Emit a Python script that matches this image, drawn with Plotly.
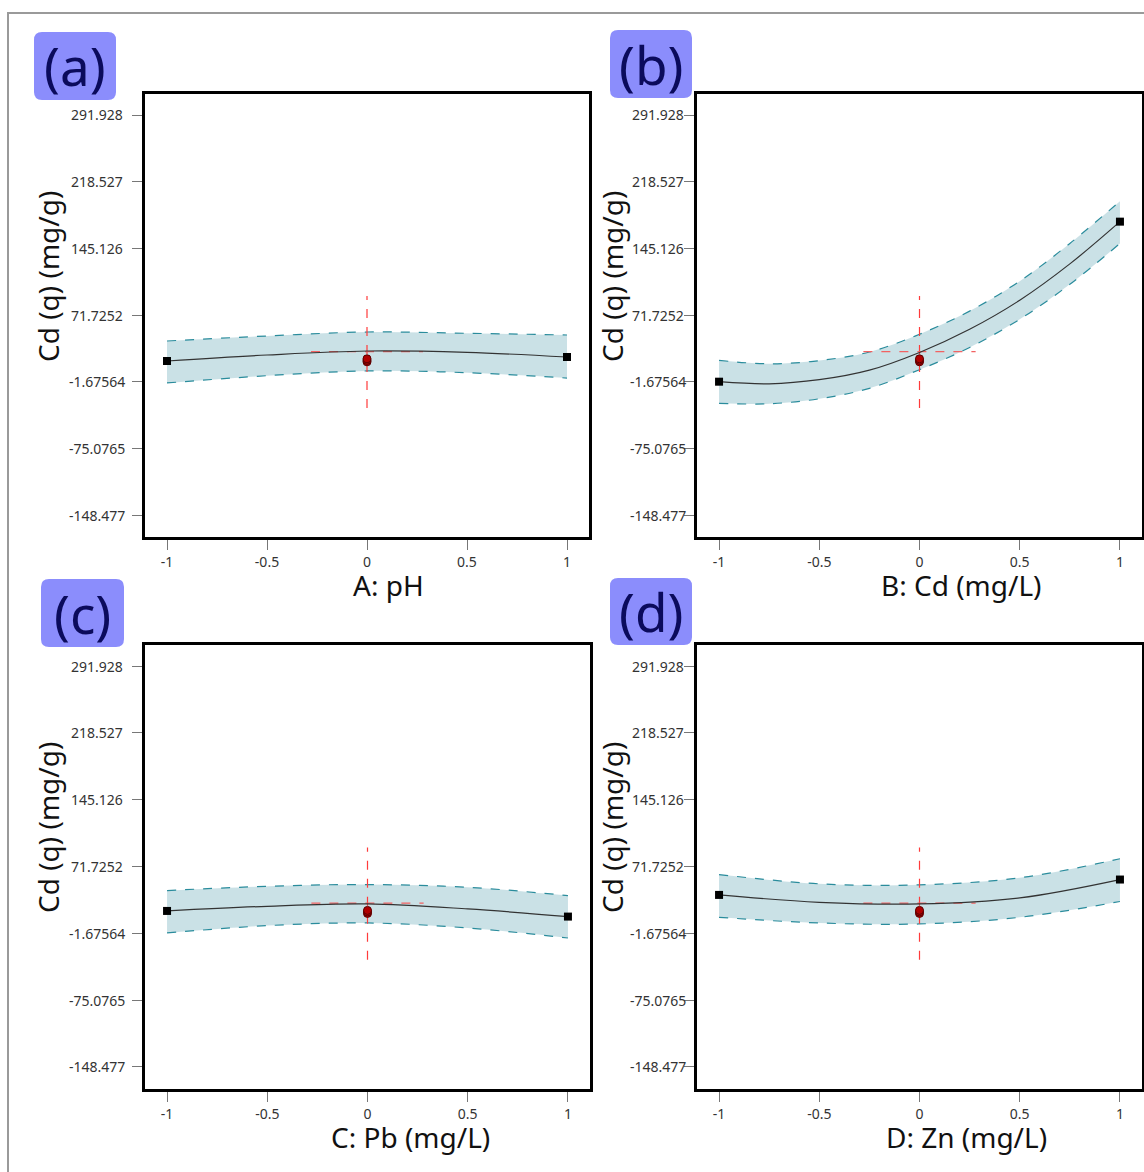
import plotly.graph_objects as go

W, H = 1144, 1172

# ---------------- data ----------------
y_tickvals = [291.928, 218.527, 145.126, 71.7252, -1.67564, -75.0765, -148.477]
y_ticktext = ["291.928", "218.527", "145.126", "71.7252", "-1.67564", "-75.0765", "-148.477"]
x_tickvals = [-1, -0.5, 0, 0.5, 1]
x_ticktext = ["-1", "-0.5", "0", "0.5", "1"]

a_x = [-1, -0.5, 0, 0.5, 1]
a_fit = [21.1, 27.7, 32.1, 30.6, 25.5]
a_hi = [43.1, 48.6, 53.0, 51.6, 49.7]
a_lo = [-3.1, 4.9, 10.1, 8.2, 2.3]

b_x = [-1, -0.75, -0.5, -0.25, 0, 0.25, 0.5, 0.75, 1]
b_fit = [-1.7, -4.0, 0.5, 11.0, 30.5, 56.0, 88.0, 128.0, 174.5]
b_hi = [21.8, 18.0, 21.5, 31.0, 50.5, 76.0, 109.0, 150.5, 197.0]
b_lo = [-25.5, -26.0, -20.5, -9.0, 11.5, 36.0, 67.0, 105.5, 150.5]

c_x = [-1, -0.5, 0, 0.5, 1]
c_fit = [22.9, 28.0, 30.6, 25.1, 16.7]
c_hi = [45.3, 50.0, 51.9, 48.9, 39.8]
c_lo = [-1.3, 6.8, 9.7, 4.2, -6.8]

d_x = [-1, -0.5, 0, 0.5, 1]
d_fit = [40.5, 32.4, 30.6, 37.3, 57.4]
d_hi = [62.9, 52.7, 51.6, 59.3, 80.2]
d_lo = [15.9, 9.7, 8.6, 15.9, 33.3]

center_runs = [20.2, 21.8, 23.5]
cross_v = [-30.6, 92.6]
cross_h_x = [-0.28, 0.28]
cross_h_y = 31.5

panel_labels = ["(a)", "(b)", "(c)", "(d)"]
x_titles = ["A: pH", "B: Cd (mg/L)", "C: Pb (mg/L)", "D: Zn (mg/L)"]
y_title = "Cd (q) (mg/g)"

# ---------------- layout geometry (pixels) ----------------
panels = [
    dict(x=a_x, fit=a_fit, hi=a_hi, lo=a_lo, dom=(145, 589, 94, 537), lab=(34, 116, 32, 100),
         ytl=97, ytitle=(48, 277), xtitle=(388, 585)),
    dict(x=b_x, fit=b_fit, hi=b_hi, lo=b_lo, dom=(697, 1142, 94, 537), lab=(610, 692, 30, 98),
         ytl=658, ytitle=(612, 277), xtitle=(961, 585)),
    dict(x=c_x, fit=c_fit, hi=c_hi, lo=c_lo, dom=(145, 590, 645, 1089), lab=(41, 124, 579, 647),
         ytl=97, ytitle=(48, 828), xtitle=(410, 1137)),
    dict(x=d_x, fit=d_fit, hi=d_hi, lo=d_lo, dom=(697, 1142, 645, 1089), lab=(610, 692, 578, 645),
         ytl=658, ytitle=(612, 828), xtitle=(966, 1137)),
]

FONT = "Noto Sans"
def px(v): return v / W
def py(v): return 1 - v / H

def rounded_rect(x0, x1, y0, y1, r):
    P = lambda a, b: f"{px(a):.5f},{py(b):.5f}"
    return (f"M {P(x0+r, y0)} L {P(x1-r, y0)} Q {P(x1, y0)} {P(x1, y0+r)} "
            f"L {P(x1, y1-r)} Q {P(x1, y1)} {P(x1-r, y1)} L {P(x0+r, y1)} "
            f"Q {P(x0, y1)} {P(x0, y1-r)} L {P(x0, y0+r)} Q {P(x0, y0)} {P(x0+r, y0)} Z")

fig = go.Figure()
shapes = []
annotations = []
layout = {}

for i, p in enumerate(panels):
    n = "" if i == 0 else str(i + 1)
    xa, ya = "x" + n, "y" + n
    X, FIT, HI, LO = p["x"], p["fit"], p["hi"], p["lo"]
    # confidence band
    fig.add_trace(go.Scatter(x=X, y=LO, xaxis=xa, yaxis=ya, mode="lines", line_shape="spline",
                             line=dict(color="#2a8c9c", width=1.2, dash="dash"), showlegend=False))
    fig.add_trace(go.Scatter(x=X, y=HI, xaxis=xa, yaxis=ya, mode="lines", line_shape="spline",
                             fill="tonexty", fillcolor="rgba(182,214,221,0.72)",
                             line=dict(color="#2a8c9c", width=1.2, dash="dash"), showlegend=False))
    # crosshair
    fig.add_trace(go.Scatter(x=[0, 0], y=cross_v, xaxis=xa, yaxis=ya, mode="lines",
                             line=dict(color="#ff3b3b", width=1.2, dash="dash"), showlegend=False))
    fig.add_trace(go.Scatter(x=cross_h_x, y=[cross_h_y, cross_h_y], xaxis=xa, yaxis=ya, mode="lines",
                             line=dict(color="#f26262", width=1.2, dash="dash"), showlegend=False))
    # fitted curve
    fig.add_trace(go.Scatter(x=X, y=FIT, xaxis=xa, yaxis=ya, mode="lines", line_shape="spline",
                             line=dict(color="#333333", width=1.2), showlegend=False))
    # end squares
    fig.add_trace(go.Scatter(x=[X[0], X[-1]], y=[FIT[0], FIT[-1]], xaxis=xa, yaxis=ya, mode="markers",
                             marker=dict(symbol="square", size=8, color="black"), showlegend=False))
    # center design points
    fig.add_trace(go.Scatter(x=[0] * len(center_runs), y=center_runs, xaxis=xa, yaxis=ya, mode="markers",
                             marker=dict(symbol="circle", size=8, color="#b00000",
                                         line=dict(color="#5a0000", width=1)), showlegend=False))

    x0, x1, y0, y1 = p["dom"]
    layout["xaxis" + n] = dict(domain=[px(x0), px(x1)], range=[-1.11, 1.11], anchor=ya,
                               tickvals=x_tickvals, ticktext=x_ticktext, ticks="outside", ticklen=10,
                               tickcolor="#777777", tickwidth=1, showline=True, mirror=True,
                               linecolor="black", linewidth=2.5, showgrid=False, zeroline=False,
                               tickfont=dict(family=FONT, size=14, color="#333333"))
    layout["yaxis" + n] = dict(domain=[py(y1), py(y0)], range=[-172.7, 315.05], anchor=xa,
                               tickvals=y_tickvals, ticks="outside", ticklen=10,
                               tickcolor="#777777", tickwidth=1, showticklabels=False,
                               showline=True, mirror=True, linecolor="black", linewidth=2.5,
                               showgrid=False, zeroline=False)
    for tv, tt in zip(y_tickvals, y_ticktext):
        annotations.append(dict(x=px(p["ytl"]), y=tv, xref="paper", yref=ya, text=tt,
                                showarrow=False, xanchor="center", yanchor="middle",
                                font=dict(family=FONT, size=14, color="#333333")))
    # axis titles
    annotations.append(dict(x=px(p["ytitle"][0]), y=py(p["ytitle"][1]), xref="paper", yref="paper",
                            text=y_title, textangle=-90, showarrow=False, xanchor="center",
                            yanchor="middle", font=dict(family=FONT, size=28, color="#111111")))
    annotations.append(dict(x=px(p["xtitle"][0]), y=py(p["xtitle"][1]), xref="paper", yref="paper",
                            text=x_titles[i], showarrow=False, xanchor="center",
                            yanchor="middle", font=dict(family=FONT, size=28, color="#111111")))
    # panel label box
    lx0, lx1, ly0, ly1 = p["lab"]
    shapes.append(dict(type="path", xref="paper", yref="paper",
                       path=rounded_rect(lx0, lx1, ly0, ly1, 8),
                       fillcolor="#8b8dfc", line=dict(width=0), layer="above"))
    annotations.append(dict(x=px((lx0 + lx1) / 2), y=py((ly0 + ly1) / 2), xref="paper", yref="paper",
                            text=panel_labels[i], showarrow=False, xanchor="center", yanchor="middle",
                            font=dict(family=FONT, size=53, color="#0b0b5c")))

# outer gray frame
shapes.append(dict(type="rect", xref="paper", yref="paper", x0=px(8), x1=1.05, y0=-0.05, y1=py(13),
                   line=dict(color="#9a9a9a", width=2), fillcolor="rgba(0,0,0,0)"))

fig.update_layout(width=W, height=H, margin=dict(l=0, r=0, t=0, b=0),
                  paper_bgcolor="white", plot_bgcolor="white",
                  shapes=shapes, annotations=annotations, **layout)

fig.write_html("out.html", config={"displayModeBar": False},
               post_script="document.body.style.margin='0px';document.body.style.overflow='hidden';")
